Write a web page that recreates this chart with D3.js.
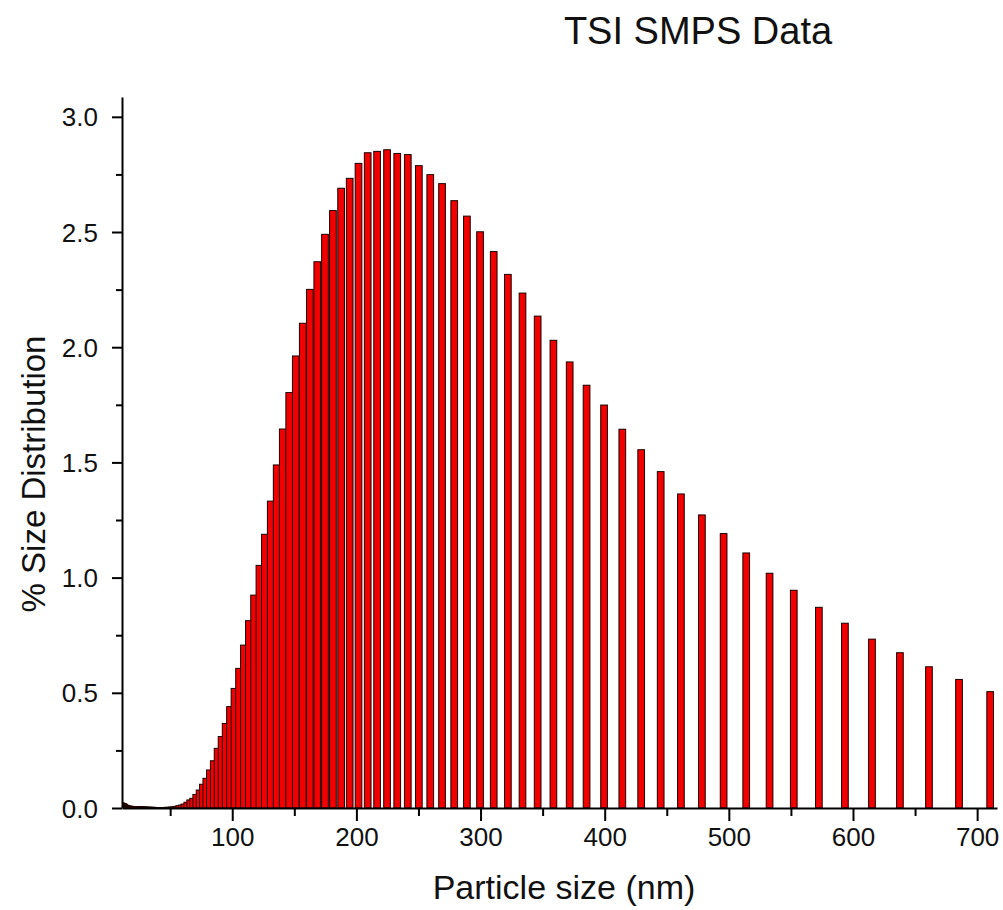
<!DOCTYPE html>
<html>
<head>
<meta charset="utf-8">
<script src="https://cdn.jsdelivr.net/npm/d3@7"></script>
<style>
  body { margin: 0; background: #fff; }
  text { font-family: Arial, "Liberation Sans", sans-serif; fill: #111; }
</style>
</head>
<body>
<div id="chart"></div>
<script>
// SMPS channel midpoints (nm), 64 channels per decade
const sizes = [10.0, 10.4, 10.7, 11.1, 11.5, 11.9, 12.2, 12.6, 13.1, 13.6, 14.1, 14.6, 15.1, 15.7, 16.3, 16.8,
  17.5, 18.1, 18.8, 19.5, 20.2, 20.9, 21.7, 22.5, 23.3, 24.1, 25.0, 25.9, 26.9, 27.9, 28.9, 30.0,
  31.1, 32.2, 33.4, 34.6, 35.9, 37.2, 38.5, 40.0, 41.4, 42.9, 44.5, 46.1, 47.8, 49.6, 51.4, 53.3,
  55.2, 57.3, 59.4, 61.5, 63.8, 66.1, 68.5, 71.0, 73.7, 76.4, 79.1, 82.0, 85.1, 88.2, 91.4, 94.7,
  98.2, 101.8, 105.5, 109.4, 113.4, 117.6, 121.9, 126.3, 131.0, 135.8, 140.7, 145.9, 151.2, 156.8, 162.5, 168.5,
  174.7, 181.1, 187.7, 194.6, 201.7, 209.1, 216.7, 224.7, 232.9, 241.4, 250.3, 259.5, 269.0, 278.8, 289.0, 299.6,
  310.6, 322.0, 333.8, 346.0, 358.7, 371.8, 385.4, 399.5, 414.2, 429.4, 445.1, 461.4, 478.3, 495.8, 514.0, 532.8,
  552.3, 572.5, 593.5, 615.3, 637.8, 661.2, 685.4, 710.5];

// % size distribution per channel
const percents = [0.022, 0.021, 0.020, 0.020, 0.019, 0.018, 0.018, 0.016, 0.014, 0.012, 0.011, 0.010, 0.009, 0.008, 0.008, 0.007,
  0.007, 0.007, 0.006, 0.006, 0.006, 0.006, 0.005, 0.005, 0.005, 0.005, 0.005, 0.004, 0.004, 0.004, 0.004, 0.004,
  0.003, 0.003, 0.003, 0.003, 0.003, 0.002, 0.002, 0.002, 0.002, 0.002, 0.002, 0.002, 0.003, 0.003, 0.004, 0.005,
  0.007, 0.010, 0.013, 0.017, 0.025, 0.035, 0.042, 0.059, 0.078, 0.103, 0.129, 0.165, 0.205, 0.259, 0.310, 0.367,
  0.440, 0.519, 0.606, 0.707, 0.813, 0.924, 1.053, 1.188, 1.332, 1.489, 1.645, 1.803, 1.962, 2.104, 2.251, 2.371,
  2.490, 2.593, 2.690, 2.733, 2.798, 2.844, 2.850, 2.857, 2.841, 2.836, 2.788, 2.749, 2.710, 2.636, 2.569, 2.501,
  2.415, 2.316, 2.235, 2.135, 2.030, 1.936, 1.835, 1.749, 1.644, 1.555, 1.460, 1.363, 1.272, 1.191, 1.107, 1.019,
  0.945, 0.871, 0.802, 0.733, 0.674, 0.613, 0.558, 0.505];

const xTicks = [100, 200, 300, 400, 500, 600, 700];
const xMinorTicks = [50, 150, 250, 350, 450, 550, 650];
const yTicks = [0.0, 0.5, 1.0, 1.5, 2.0, 2.5, 3.0];
const yMinorTicks = [0.25, 0.75, 1.25, 1.75, 2.25, 2.75];

const W = 1003, H = 910;
const margin = { left: 122, right: 997, top: 97, bottom: 808 };
const barW = 6.7;

const svg = d3.select("#chart").append("svg")
    .attr("width", W)
    .attr("height", H);

const x = d3.scaleLinear().domain([11.2, 716]).range([margin.left, margin.right]);
const y = d3.scaleLinear().domain([0, 3.086]).range([margin.bottom, margin.top]);

// clip bars to the plot area
svg.append("clipPath").attr("id", "plot")
    .append("rect")
    .attr("x", margin.left).attr("y", margin.top)
    .attr("width", margin.right - margin.left).attr("height", margin.bottom - margin.top);

const rows = sizes.map((s, i) => ({ size: s, value: percents[i] }));

svg.append("g")
    .attr("clip-path", "url(#plot)")
    .selectAll("rect")
    .data(rows)
    .enter()
    .append("rect")
    .attr("x", d => x(d.size) - barW / 2)
    .attr("y", d => y(d.value))
    .attr("width", barW)
    .attr("height", d => margin.bottom - y(d.value))
    .attr("fill", "#f20000")
    .attr("stroke", "#1a0000")
    .attr("stroke-width", 1);

// x axis
svg.append("g")
    .attr("transform", `translate(0,${margin.bottom})`)
    .call(d3.axisBottom(x).tickValues(xTicks).tickSize(13).tickSizeOuter(0).tickPadding(7));
svg.append("g")
    .attr("transform", `translate(0,${margin.bottom})`)
    .call(d3.axisBottom(x).tickValues(xMinorTicks).tickSize(8).tickSizeOuter(0).tickFormat(""))
    .select(".domain").remove();

// y axis
const yAxis = svg.append("g")
    .attr("transform", `translate(${margin.left},0)`)
    .call(d3.axisLeft(y).tickValues(yTicks).tickSize(10).tickSizeOuter(0).tickPadding(14)
        .tickFormat(d3.format(".1f")));
svg.append("g")
    .attr("transform", `translate(${margin.left},0)`)
    .call(d3.axisLeft(y).tickValues(yMinorTicks).tickSize(6).tickSizeOuter(0).tickFormat(""))
    .select(".domain").remove();

svg.selectAll(".domain").attr("stroke", "#000").attr("stroke-width", 2);
svg.selectAll(".tick line").attr("stroke", "#000").attr("stroke-width", 2);
svg.selectAll(".tick text")
    .attr("font-size", 26)
    .attr("font-family", "Arial, 'Liberation Sans', sans-serif")
    .attr("fill", "#111");
yAxis.selectAll(".tick text").attr("dy", "0.35em");

// titles
svg.append("text")
    .attr("x", 698)
    .attr("y", 44)
    .attr("text-anchor", "middle")
    .attr("font-size", 38)
    .text("TSI SMPS Data");

svg.append("text")
    .attr("x", 564)
    .attr("y", 899)
    .attr("text-anchor", "middle")
    .attr("font-size", 34)
    .text("Particle size (nm)");

svg.append("text")
    .attr("transform", "translate(45,474) rotate(-90)")
    .attr("text-anchor", "middle")
    .attr("font-size", 33)
    .text("% Size Distribution");
</script>
</body>
</html>
